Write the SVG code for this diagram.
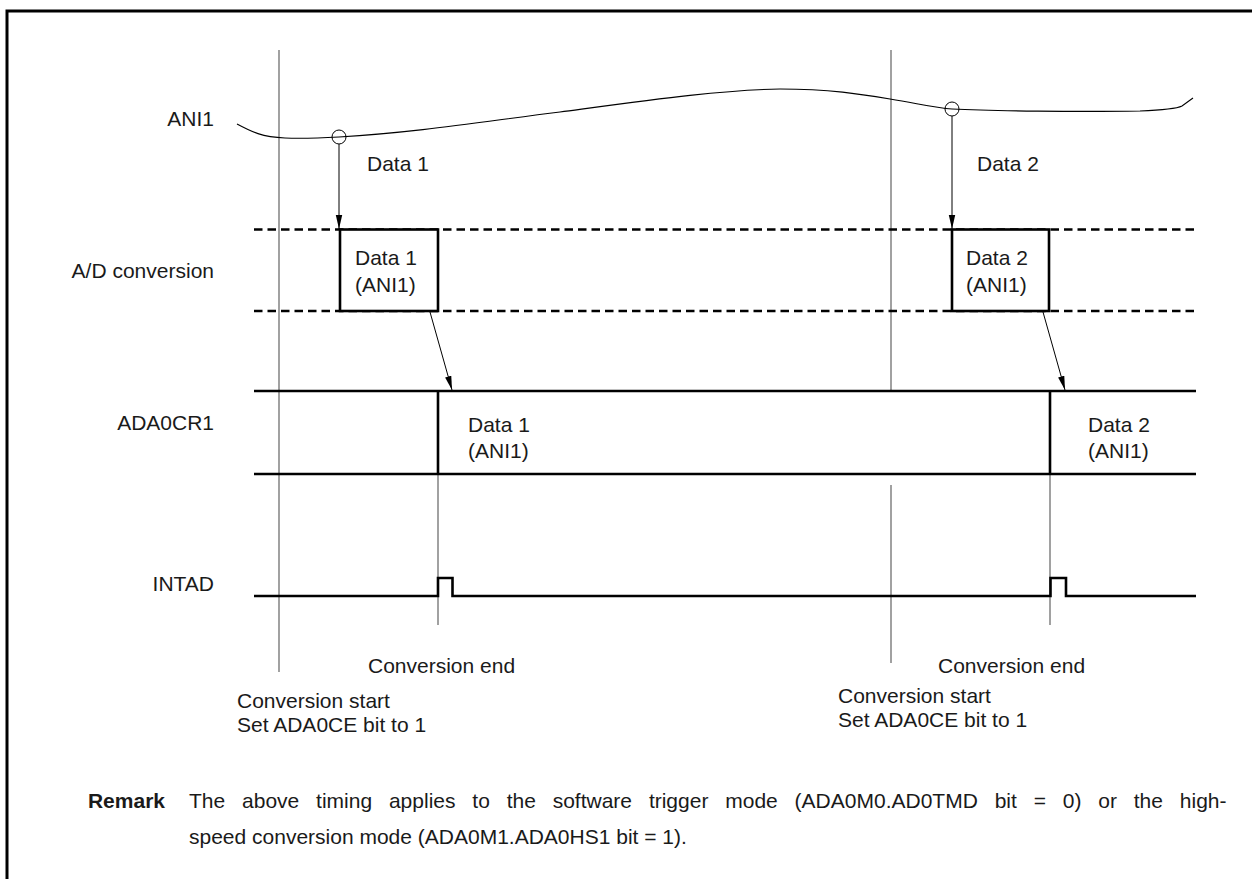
<svg xmlns="http://www.w3.org/2000/svg" width="1252" height="879" viewBox="0 0 1252 879">
<defs>
<marker id="arr" markerUnits="userSpaceOnUse" markerWidth="14" markerHeight="8" viewBox="0 0 14 8" refX="14" refY="4" orient="auto">
<path d="M0,0.8 L14,4 L0,7.2 Z" fill="#000"/>
</marker>
<style>
text{font-family:"Liberation Sans",Arial,sans-serif;font-size:21px;fill:#1a1a1a}
.r{text-anchor:end}
.b{font-weight:bold}
.thin{stroke:#555;stroke-width:1.1;fill:none}
.thick{stroke:#000;stroke-width:2.6;fill:none}
.dash{stroke:#000;stroke-width:2.6;stroke-dasharray:8.5 5;fill:none}
.ar{stroke:#000;stroke-width:1;fill:none}
</style>
</defs>
<rect width="1252" height="879" fill="#fff"/>
<g id="frame"><path d="M7,879 V11 H1252" stroke="#000" stroke-width="3" fill="none"/></g>
<g id="labels">
<text class="r" x="214" y="126">ANI1</text>
<text class="r" x="214" y="278">A/D conversion</text>
<text class="r" x="214" y="430">ADA0CR1</text>
<text class="r" x="214" y="591">INTAD</text>
</g>
<g id="timelines">
<path class="thin" d="M279,50 V672"/>
<path class="thin" d="M891,50 V391 M891,485 V663"/>
<path class="thin" d="M438,474 V625 M1050,474 V625"/>
</g>
<g id="ani1">
<path fill="none" stroke="#000" stroke-width="1.1" d="M237,124 C252,132 262,137 285,138 C300,138.5 320,138 339,137 C420,132 480,122 560,112 C650,100 720,90 780,89 C830,89 860,94 890,99 C920,104 935,108 952,109 C990,111 1080,112 1140,111 C1165,110 1178,108 1182,106 L1193,98"/>
<circle cx="339" cy="137" r="7" fill="none" stroke="#000" stroke-width="1"/>
<circle cx="952" cy="109" r="7" fill="none" stroke="#000" stroke-width="1"/>
<text x="367" y="171">Data 1</text>
<text x="977" y="171">Data 2</text>
</g>
<g id="adconv">
<path class="dash" d="M254,229.5 H1197 M254,311 H1197"/>
<g id="box1"><rect x="340" y="229.5" width="98" height="81.5" fill="#fff" stroke="#000" stroke-width="2.6"/>
<text x="355" y="265">Data 1</text><text x="355" y="292">(ANI1)</text></g>
<g id="box2"><rect x="952" y="229.5" width="97" height="81.5" fill="#fff" stroke="#000" stroke-width="2.6"/>
<text x="966" y="265">Data 2</text><text x="966" y="292">(ANI1)</text></g>
</g>
<g id="ada0cr1">
<path class="thick" d="M254,391 H1196 M254,474 H1196 M438,391 V474 M1050,391 V474"/>
<text x="468" y="432">Data 1</text><text x="468" y="458">(ANI1)</text>
<text x="1088" y="432">Data 2</text><text x="1088" y="458">(ANI1)</text>
</g>
<g id="intad">
<path class="thick" d="M254,596 H438 V578 H452.5 V596 H1050.5 V578 H1066 V596 H1196"/>
</g>
<g id="connectors">
<path class="ar" d="M339,144 V229" marker-end="url(#arr)"/>
<path class="ar" d="M952,116 V229" marker-end="url(#arr)"/>
<path class="ar" d="M430,312 L452,390" marker-end="url(#arr)"/>
<path class="ar" d="M1043,312 L1065,390" marker-end="url(#arr)"/>
</g>
<g id="events">
<text x="368" y="673">Conversion end</text>
<text x="938" y="673">Conversion end</text>
<text x="237" y="708">Conversion start</text>
<text x="237" y="732">Set ADA0CE bit to 1</text>
<text x="838" y="703">Conversion start</text>
<text x="838" y="727">Set ADA0CE bit to 1</text>
</g>
<g id="remark">
<text class="b r" x="165" y="808">Remark</text>
<text x="189" y="808" word-spacing="11">The above timing applies to the software trigger mode (ADA0M0.AD0TMD bit = 0) or the high-</text>
<text x="189" y="844">speed conversion mode (ADA0M1.ADA0HS1 bit = 1).</text>
</g>
</svg>
